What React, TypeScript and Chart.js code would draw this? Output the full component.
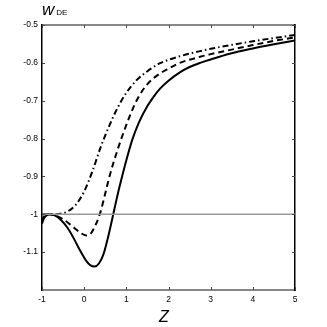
import React, { useEffect, useRef } from "react";
import { Chart, registerables } from "chart.js";
Chart.register(...registerables);

// Solid curve
const zSolid = [-1, -0.95, -0.88, -0.8, -0.7, -0.55, -0.4, -0.25, -0.1, 0.05, 0.15, 0.25, 0.35, 0.45, 0.55, 0.62, 0.69, 0.8, 0.9, 1.0, 1.15, 1.3, 1.5, 1.65, 1.8, 2.0, 2.27, 2.5, 2.75, 3.0, 3.45, 4.0, 4.5, 5];
const wSolid = [-1.025, -1.01, -1.002, -1.0, -1.003, -1.015, -1.035, -1.063, -1.095, -1.123, -1.135, -1.138, -1.13, -1.108, -1.068, -1.035, -1.0, -0.945, -0.9, -0.857, -0.8, -0.757, -0.714, -0.689, -0.668, -0.647, -0.625, -0.611, -0.6, -0.591, -0.576, -0.562, -0.551, -0.541];
// Dashed curve
const zDashed = [-1, -0.95, -0.85, -0.7, -0.5, -0.3, -0.1, 0.05, 0.15, 0.25, 0.37, 0.5, 0.6, 0.8, 1.0, 1.15, 1.3, 1.5, 1.8, 2.0, 2.27, 2.75, 3.0, 3.5, 4.0, 4.5, 5];
const wDashed = [-1.02, -1.004, -1.0, -1.003, -1.013, -1.03, -1.048, -1.056, -1.052, -1.033, -1.0, -0.945, -0.9, -0.827, -0.764, -0.722, -0.688, -0.656, -0.628, -0.615, -0.6, -0.584, -0.577, -0.565, -0.553, -0.542, -0.533];
// Dash-dot curve
const zDashDot = [-1, -0.8, -0.6, -0.4, -0.2, 0, 0.2, 0.4, 0.6, 0.8, 1.0, 1.25, 1.5, 1.8, 2.0, 2.27, 2.75, 3.0, 3.5, 4.0, 4.5, 5];
const wDashDot = [-1.0, -1.0, -0.999, -0.993, -0.975, -0.94, -0.885, -0.82, -0.765, -0.717, -0.679, -0.645, -0.622, -0.601, -0.592, -0.5825, -0.569, -0.563, -0.5525, -0.543, -0.5345, -0.5265];
// Reference line w = -1
const zRef = [-1, 5];
const wRef = [-1, -1];

const xTicks = [-1, 0, 1, 2, 3, 4, 5];
const xTickLabels = ["-1", "0", "1", "2", "3", "4", "5"];
const yTicks = [-1.1, -1, -0.9, -0.8, -0.7, -0.6, -0.5];
const yTickLabels = ["-1.1", "-1", "-0.9", "-0.8", "-0.7", "-0.6", "-0.5"];

const zip = (xs: number[], ys: number[]) => xs.map((x, i) => ({ x, y: ys[i] }));

const inwardTicks = {
  id: "inwardTicks",
  afterDatasetsDraw(chart: any) {
    const { ctx, chartArea: a, scales } = chart;
    const L = 3;
    ctx.save();
    ctx.strokeStyle = "#444";
    ctx.lineWidth = 1;
    ctx.beginPath();
    for (const v of xTicks) {
      const x = Math.round(scales.x.getPixelForValue(v)) + 0.5;
      ctx.moveTo(x, a.bottom);
      ctx.lineTo(x, a.bottom - L);
      ctx.moveTo(x, a.top);
      ctx.lineTo(x, a.top + L);
    }
    for (const v of yTicks) {
      const y = Math.round(scales.y.getPixelForValue(v)) + 0.5;
      ctx.moveTo(a.left, y);
      ctx.lineTo(a.left + L, y);
      ctx.moveTo(a.right, y);
      ctx.lineTo(a.right - L, y);
    }
    ctx.stroke();
    ctx.restore();
  },
};

export default function App() {
  const ref = useRef<HTMLCanvasElement>(null);
  useEffect(() => {
    const font = { family: "'Liberation Sans', Arial, sans-serif", size: 8.5 };
    const chart = new Chart(ref.current!, {
      type: "scatter",
      data: {
        datasets: [
          {
            data: zip(zRef, wRef),
            showLine: true,
            borderColor: "#999",
            borderWidth: 1.5,
            pointRadius: 0,
          },
          {
            data: zip(zSolid, wSolid),
            showLine: true,
            borderColor: "#000",
            borderWidth: 2,
            pointRadius: 0,
            cubicInterpolationMode: "monotone",
          },
          {
            data: zip(zDashed, wDashed),
            showLine: true,
            borderColor: "#000",
            borderWidth: 2,
            borderDash: [6, 4],
            pointRadius: 0,
            cubicInterpolationMode: "monotone",
          },
          {
            data: zip(zDashDot, wDashDot),
            showLine: true,
            borderColor: "#000",
            borderWidth: 2,
            borderDash: [6, 3, 1.5, 3],
            pointRadius: 0,
            cubicInterpolationMode: "monotone",
          },
        ] as any,
      },
      options: {
        responsive: false,
        animation: false,
        layout: { padding: 0 },
        plugins: { legend: { display: false }, tooltip: { enabled: false } },
        scales: {
          x: {
            type: "linear",
            position: "bottom",
            min: -1,
            max: 5,
            grid: { display: false, drawTicks: false },
            border: { display: true, color: "#888", width: 2 },
            ticks: {
              color: "#000",
              font,
              padding: 5,
              maxRotation: 0,
              callback: (_v: any, i: number) => xTickLabels[i],
            },
            afterBuildTicks: (s: any) => {
              s.ticks = xTicks.map((v) => ({ value: v }));
            },
            afterFit: (s: any) => {
              s.height = 37;
            },
          },
          x2: {
            type: "linear",
            position: "top",
            min: -1,
            max: 5,
            grid: { display: false, drawTicks: false },
            border: { display: true, color: "#888", width: 2 },
            ticks: { display: false },
            afterFit: (s: any) => {
              s.height = 25;
            },
          },
          y: {
            type: "linear",
            position: "left",
            min: -1.2,
            max: -0.5,
            grid: { display: false, drawTicks: false },
            border: { display: true, color: "#000", width: 1.5 },
            ticks: {
              color: "#000",
              font,
              padding: 4,
              callback: (_v: any, i: number) => yTickLabels[i],
            },
            afterBuildTicks: (s: any) => {
              s.ticks = yTicks.map((v) => ({ value: v }));
            },
            afterFit: (s: any) => {
              s.width = 42;
            },
          },
          y2: {
            type: "linear",
            position: "right",
            min: -1.2,
            max: -0.5,
            grid: { display: false, drawTicks: false },
            border: { display: true, color: "#000", width: 1.5 },
            ticks: { display: false },
            afterFit: (s: any) => {
              s.width = 32;
            },
          },
        },
      } as any,
      plugins: [inwardTicks],
    });
    return () => chart.destroy();
  }, []);

  return (
    <div style={{ position: "fixed", left: 0, top: 0, width: 327, height: 327, background: "#fff" }}>
      <canvas ref={ref} width={327} height={327} style={{ display: "block" }} />
      <div
        style={{
          position: "absolute",
          left: 42,
          top: 0,
          fontFamily: "'Liberation Sans', Arial, sans-serif",
          whiteSpace: "nowrap",
        }}
      >
        <span style={{ fontStyle: "italic", fontSize: 17 }}>w</span>
        <span style={{ fontSize: 8, marginLeft: 2 }}>DE</span>
      </div>
      <div
        style={{
          position: "absolute",
          left: 159,
          top: 308,
          fontFamily: "'Liberation Sans', Arial, sans-serif",
          fontStyle: "italic",
          fontSize: 16,
        }}
      >
        Z
      </div>
    </div>
  );
}
